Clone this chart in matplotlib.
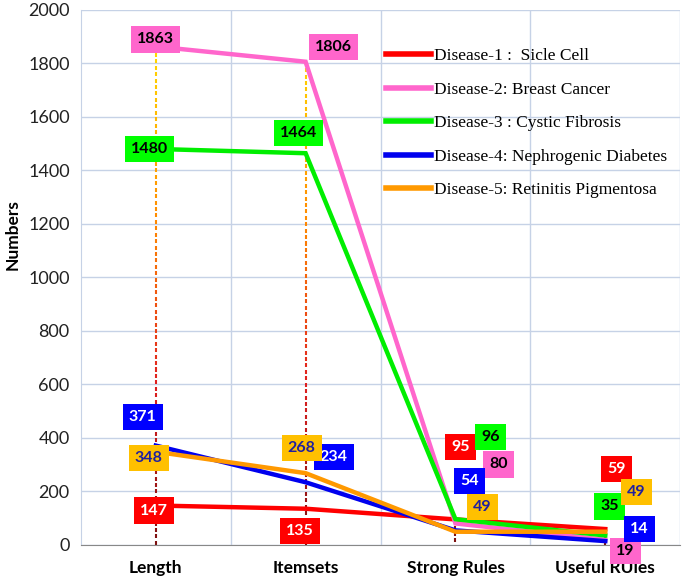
import numpy as np
import matplotlib
matplotlib.use("Agg")
import matplotlib.pyplot as plt
from matplotlib.collections import LineCollection
from matplotlib.colors import LinearSegmentedColormap

categories = ["Length", "Itemsets", "Strong Rules", "Useful RUles"]
series_names = ["Disease-1 :  Sicle Cell", "Disease-2: Breast Cancer",
                "Disease-3 : Cystic Fibrosis", "Disease-4: Nephrogenic Diabetes",
                "Disease-5: Retinitis Pigmentosa"]
sickle = [147, 135, 95, 59]
breast = [1863, 1806, 80, 19]
cystic = [1480, 1464, 96, 35]
nephro = [371, 234, 54, 14]
retina = [348, 268, 49, 49]
series = [sickle, breast, cystic, nephro, retina]

line_colors = ["#ff0000", "#ff66cc", "#00ee00", "#0000ee", "#ff9900"]
box_colors = ["#ff0000", "#ff66cc", "#00ff00", "#0000ff", "#ffc000"]
text_colors = ["white", "black", "black", "white", "#2020a0"]

# label offsets in pixels (dx right, dy up) for each point
label_offsets = [
    [(-2, -5), (-6, -22), (5, 72), (11, 60)],
    [(0, 7), (28, 15), (43, 59), (20, -11)],
    [(-6, 0), (-7, 20), (35, 82), (4, 29)],
    [(-13, 29), (28, 25), (14, 49), (34, 12)],
    [(-7, -6), (-4, 25), (27, 25), (31, 40)],
]

plt.rcParams["font.family"] = ["Lato", "DejaVu Sans"]

fig = plt.figure(figsize=(6.85, 5.79), dpi=100)
ax = fig.add_axes([0.118, 0.059, 0.875, 0.924])

x = np.arange(len(categories))

# gradient dashed drop lines
cmap = LinearSegmentedColormap.from_list(
    "drop", ["#7a1010", "#e02020", "#ff8c00", "#ffd700"])
for i in x:
    top = max(s[i] for s in series)
    starts = np.arange(top, 0, -24.0)
    segs = [[(i, s0), (i, max(s0 - 15, 0))] for s0 in starts]
    cols = [cmap(min(s0 / 1850, 1.0)) for s0 in starts]
    ax.add_collection(LineCollection(segs, colors=cols, linewidths=1.5, zorder=1))

for k, s in enumerate(series):
    ax.plot(x, s, color=line_colors[k], lw=3.2, label=series_names[k],
            zorder=3, solid_joinstyle="miter")
    for i, v in enumerate(s):
        dx, dy = label_offsets[k][i]
        ax.annotate(str(v), (i, v), xytext=(dx, dy), textcoords="offset pixels",
                    ha="center", va="center", fontsize=11.5, fontweight="bold",
                    color=text_colors[k], zorder=5, annotation_clip=False,
                    bbox=dict(boxstyle="square,pad=0.38", fc=box_colors[k], ec="none"))

ax.set_xlim(-0.5, 3.5)
ax.set_ylim(0, 2000)
ax.set_yticks(np.arange(0, 2001, 200))
ax.set_xticks(x)
ax.set_xticklabels(categories, fontweight="bold", fontsize=12.5)
ax.set_xticks(np.arange(0.5, 3.6, 1), minor=True)
ax.tick_params(axis="both", length=0, which="both")
ax.tick_params(axis="y", labelsize=13, colors="#222222", pad=8)
ax.tick_params(axis="x", pad=11)
ax.grid(True, which="major", axis="y", color="#c6d2e6", lw=1)
ax.grid(True, which="minor", axis="x", color="#c6d2e6", lw=1)
ax.set_axisbelow(True)
for side in ["top", "right"]:
    ax.spines[side].set_visible(False)
ax.spines["left"].set_color("#c6d2e6")
ax.spines["bottom"].set_color("#888888")
ax.set_ylabel("Numbers", fontweight="bold", fontsize=12.5, labelpad=6)
ax.yaxis.set_label_coords(-0.1, 0.58)

leg = ax.legend(loc="upper left", bbox_to_anchor=(386 / 685, 1 - 48 / 579),
                bbox_transform=fig.transFigure, frameon=False,
                prop={"family": "Liberation Serif", "size": 12.5},
                handlelength=2.6, handletextpad=0.15, labelspacing=1.0,
                borderaxespad=0, borderpad=0)
for h in leg.get_lines():
    h.set_linewidth(4)

fig.savefig("out.png", dpi=100)
